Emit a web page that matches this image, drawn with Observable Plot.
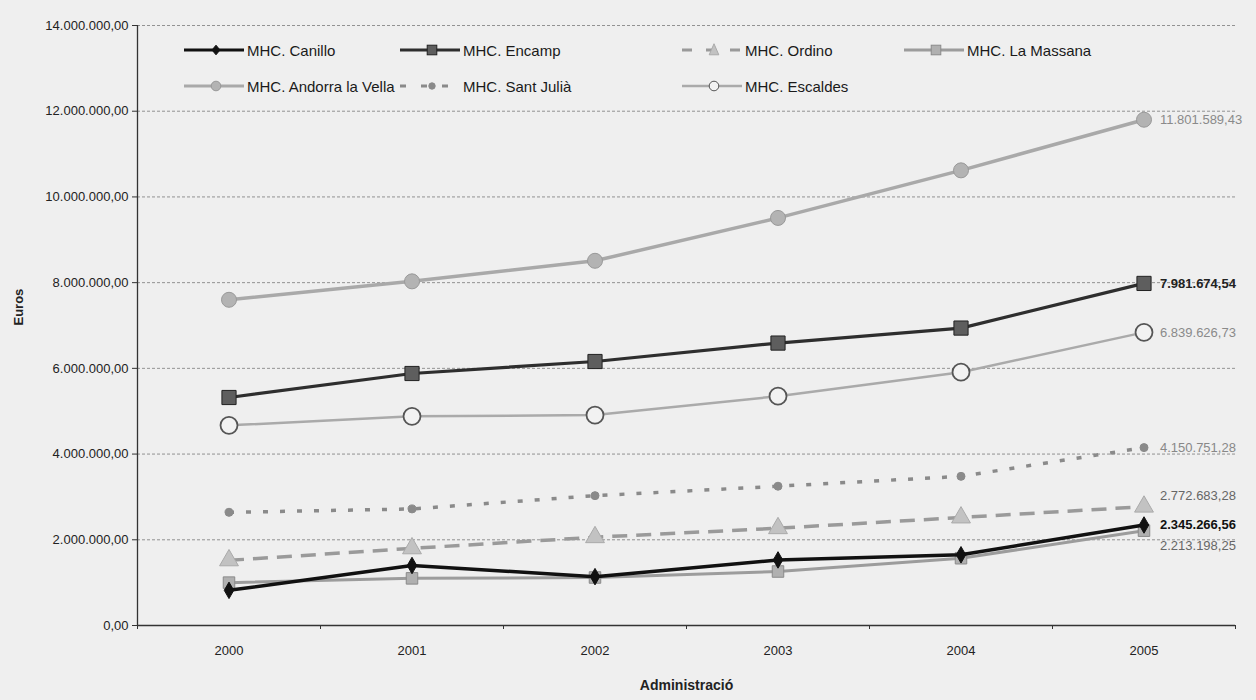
<!DOCTYPE html>
<html><head><meta charset="utf-8">
<script src="https://cdn.jsdelivr.net/npm/d3@7"></script>
<script src="https://cdn.jsdelivr.net/npm/@observablehq/plot@0.6"></script>
<style>
body{margin:0;background:#efefef;}
#wrap{position:relative;width:1256px;height:700px;font-family:"Liberation Sans",Arial,sans-serif;}
#legend{position:absolute;left:0;top:0;width:0;height:0;}
.item{position:absolute;display:flex;align-items:center;font-size:15px;color:#1a1a1a;white-space:nowrap;transform:translateY(-50%);}
.item svg{margin-right:2px;}
</style></head><body>
<div id="wrap"><div id="chart"></div><div id="legend"></div></div>
<script>
// ---- data ----
const years = [2000, 2001, 2002, 2003, 2004, 2005];
const canillo        = [820000, 1400000, 1140000, 1530000, 1650000, 2345266.56];
const encamp         = [5320000, 5880000, 6160000, 6590000, 6940000, 7981674.54];
const ordino         = [1520000, 1800000, 2060000, 2270000, 2520000, 2772683.28];
const laMassana      = [1000000, 1100000, 1120000, 1260000, 1570000, 2213198.25];
const andorraLaVella = [7600000, 8030000, 8510000, 9510000, 10620000, 11801589.43];
const santJulia      = [2640000, 2720000, 3030000, 3250000, 3480000, 4150751.28];
const escaldes       = [4670000, 4880000, 4910000, 5350000, 5910000, 6839626.73];
const yTicks = [0, 2000000, 4000000, 6000000, 8000000, 10000000, 12000000, 14000000];
const seriesNames = ["MHC. Canillo", "MHC. Encamp", "MHC. Ordino", "MHC. La Massana",
                     "MHC. Andorra la Vella", "MHC. Sant Julià", "MHC. Escaldes"];
const seriesValues = [canillo, encamp, ordino, laMassana, andorraLaVella, santJulia, escaldes];

// ---- styles ----
const styles = {
  "MHC. Canillo":          {stroke:"#111", sw:3.5, dash:null, symbol:"diamond", r:5, fill:"#111", mstroke:"#111", lab:"#111", bold:true, dy:0},
  "MHC. Encamp":           {stroke:"#2e2e2e", sw:3.2, dash:null, symbol:"square", r:8, fill:"#5e5e5e", mstroke:"#222", lab:"#222", bold:true, dy:0},
  "MHC. Ordino":           {stroke:"#9a9a9a", sw:3.5, dash:"15,9", symbol:"triangle", r:7, fill:"#c2c2c2", mstroke:"#aaa", lab:"#666", bold:false, dy:-11},
  "MHC. La Massana":       {stroke:"#9c9c9c", sw:3, dash:null, symbol:"square", r:6.5, fill:"#b0b0b0", mstroke:"#8a8a8a", lab:"#666", bold:false, dy:15},
  "MHC. Andorra la Vella": {stroke:"#a9a9a9", sw:3.5, dash:null, symbol:"circle", r:7.5, fill:"#b3b3b3", mstroke:"#999", lab:"#8a8a8a", bold:false, dy:0},
  "MHC. Sant Julià":       {stroke:"#8a8a8a", sw:3.5, dash:"5,12", symbol:"circle", r:4, fill:"#8a8a8a", mstroke:"#8a8a8a", lab:"#888", bold:false, dy:0},
  "MHC. Escaldes":         {stroke:"#aaaaaa", sw:2.5, dash:null, symbol:"circle", r:8.5, fill:"#f2f2f2", mstroke:"#555", lab:"#8a8a8a", bold:false, dy:0}
};
const drawOrder = ["MHC. Andorra la Vella", "MHC. Escaldes", "MHC. Encamp", "MHC. Sant Julià",
                   "MHC. Ordino", "MHC. La Massana", "MHC. Canillo"];

const rows = [];
seriesNames.forEach((s, i) => seriesValues[i].forEach((v, j) => rows.push({series: s, year: years[j], value: v})));

const loc = d3.formatLocale({decimal: ",", thousands: ".", grouping: [3], currency: ["", "€"]});
const fmt = loc.format(",.2f");
const xDomain = [years[0] - 0.5, years[years.length - 1] + 0.5];
const boundaries = [...years.map(y => y - 0.5), years[years.length - 1] + 0.5];

const marks = [
  Plot.gridY(yTicks.filter(t => t > 0), {stroke: "#7a7a7a", strokeOpacity: 0.8, strokeWidth: 1, strokeDasharray: "3,2"}),
  Plot.ruleY([0], {stroke: "#333", strokeWidth: 1.3}),
  Plot.ruleX([xDomain[0]], {stroke: "#333", strokeWidth: 1.3}),
  Plot.axisY(yTicks, {tickFormat: fmt, tickSize: 5, tickPadding: 4, fontSize: 13, label: null, stroke: "#333"}),
  Plot.axisX(years, {tickFormat: d => String(d), tickSize: 0, tickPadding: 20, fontSize: 13, label: null}),
  Plot.axisX(boundaries, {tickFormat: () => "", tickSize: 4, label: null, stroke: "#333"}),
];
for (const s of drawOrder) {
  const st = styles[s];
  const data = rows.filter(d => d.series === s);
  marks.push(Plot.lineY(data, {x: "year", y: "value", stroke: st.stroke, strokeWidth: st.sw,
    strokeDasharray: st.dash || undefined, strokeLinecap: st.dash ? "butt" : "round", strokeLinejoin: "round"}));
  marks.push(Plot.dot(data, {x: "year", y: "value", symbol: st.symbol, r: st.r, fill: st.fill,
    stroke: st.mstroke, strokeWidth: st.symbol === "circle" && st.fill === "#f2f2f2" ? 1.8 : 1}));
  marks.push(Plot.text(data.slice(-1), {x: "year", y: "value", text: d => fmt(d.value), dx: 16, dy: st.dy,
    textAnchor: "start", fill: st.lab, fontSize: 13, fontWeight: st.bold ? "bold" : "normal"}));
}
marks.push(Plot.text(["Euros"], {frameAnchor: "left", rotate: -90, dx: -119, text: d => d, fontWeight: "bold", fontSize: 13, fill: "#222"}));
marks.push(Plot.text(["Administració"], {frameAnchor: "bottom", dy: 64, text: d => d, fontWeight: "bold", fontSize: 14, fill: "#222"}));

const chart = Plot.plot({
  width: 1256, height: 700,
  marginLeft: 137, marginRight: 21, marginTop: 25, marginBottom: 75,
  style: {background: "transparent", fontFamily: "Liberation Sans, Arial, sans-serif", fontSize: "13px", color: "#222", overflow: "visible"},
  x: {type: "linear", domain: xDomain, axis: null},
  y: {domain: [0, 14000000], axis: null},
  marks
});
document.getElementById("chart").appendChild(chart);

// ---- legend (HTML overlay inside plot area) ----
const legendPos = {
  "MHC. Canillo": [183, 50], "MHC. Encamp": [399, 50], "MHC. Ordino": [681, 50], "MHC. La Massana": [903, 50],
  "MHC. Andorra la Vella": [183, 86], "MHC. Sant Julià": [399, 86], "MHC. Escaldes": [681, 86]
};
const leg = d3.select("#legend");
for (const s of seriesNames) {
  const st = styles[s];
  const [lx, ly] = legendPos[s];
  const item = leg.append("div").attr("class", "item").style("left", lx + "px").style("top", ly + "px");
  const w = 62, h = 18, cx = 33, cy = 9;
  const svg = item.append("svg").attr("width", w).attr("height", h);
  svg.append("line").attr("x1", 1).attr("x2", w - 1).attr("y1", cy).attr("y2", cy)
    .attr("stroke", st.stroke).attr("stroke-width", Math.min(st.sw, 3))
    .attr("stroke-dasharray", st.dash ? (s === "MHC. Sant Julià" ? "6,15" : "10,14") : null);
  const rr = Math.min(st.r, 6) * 0.8;
  let shape;
  if (st.symbol === "circle") shape = svg.append("circle").attr("cx", cx).attr("cy", cy).attr("r", rr);
  else if (st.symbol === "square") shape = svg.append("rect").attr("x", cx - rr).attr("y", cy - rr).attr("width", 2 * rr).attr("height", 2 * rr);
  else if (st.symbol === "diamond") shape = svg.append("path").attr("d", `M${cx},${cy - rr * 1.2}L${cx + rr},${cy}L${cx},${cy + rr * 1.2}L${cx - rr},${cy}Z`);
  else shape = svg.append("path").attr("d", `M${cx},${cy - rr * 1.3}L${cx + rr},${cy + rr}L${cx - rr},${cy + rr}Z`);
  shape.attr("fill", st.fill).attr("stroke", st.mstroke).attr("stroke-width", 1);
  item.append("span").text(s);
}
</script>
</body></html>
